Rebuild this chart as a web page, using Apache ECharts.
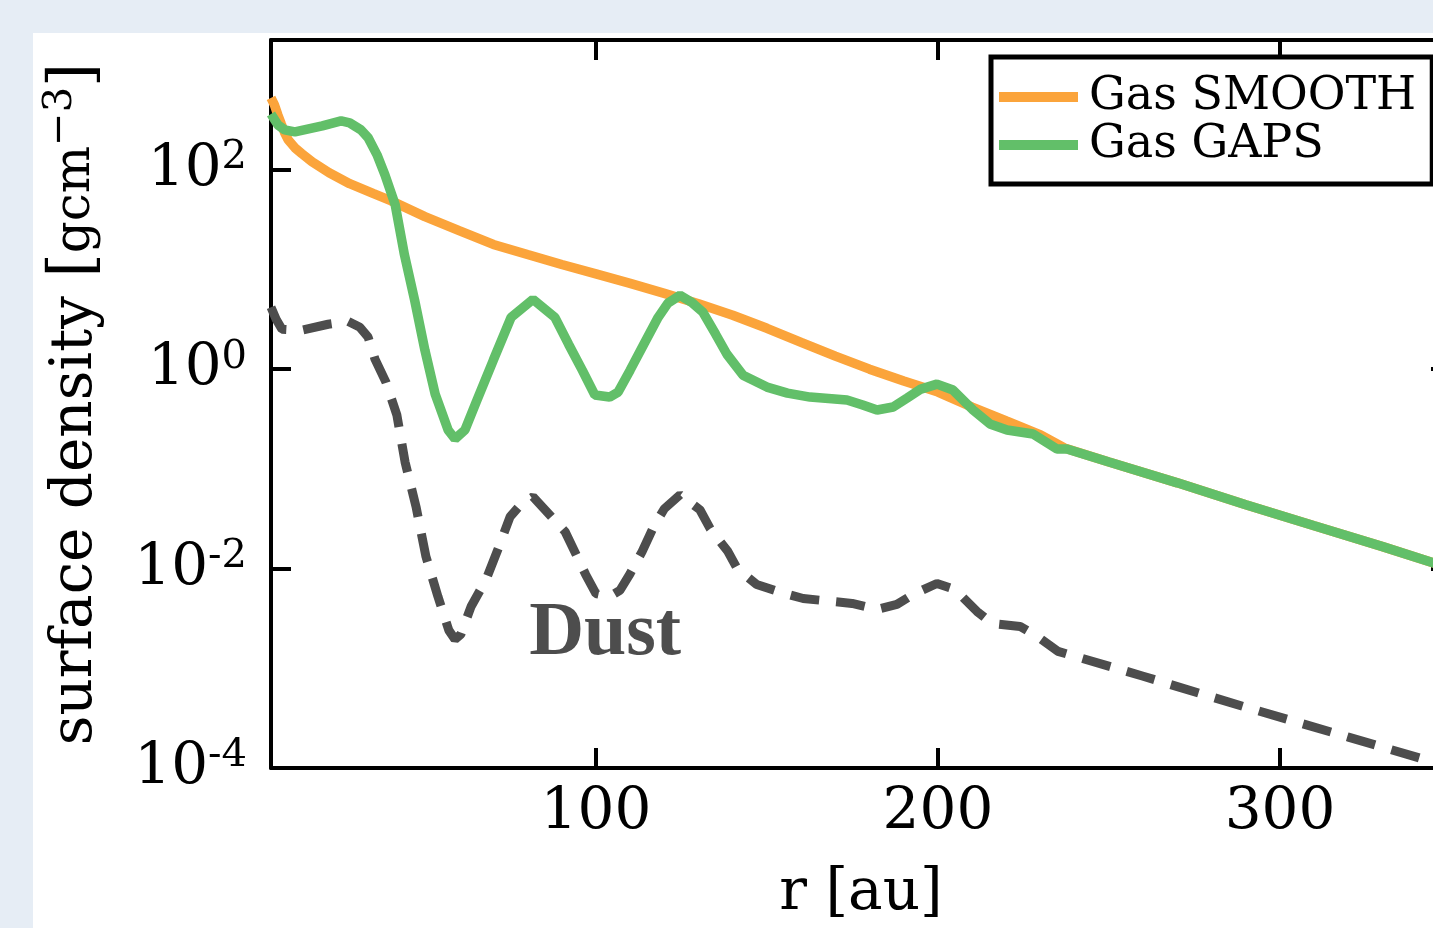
<!DOCTYPE html>
<html>
<head>
<meta charset="utf-8">
<script src="https://cdn.jsdelivr.net/npm/echarts@6/dist/echarts.min.js"></script>
<style>
  html, body { margin: 0; padding: 0; width: 1433px; height: 928px; overflow: hidden; background: #e6edf5; }
  #chart { position: absolute; left: 33px; top: 33px; width: 1500px; height: 895px; background: #fff; }
</style>
</head>
<body>
<div id="chart"></div>
<script>
// radius [au] and surface density values
const rSmooth = [5, 6, 7, 8, 9, 10, 12, 14, 17, 22, 28, 35, 40, 50, 60, 70, 80, 90, 100, 110, 120, 130, 140,
  150, 160, 170, 180, 190, 200, 210, 220, 230, 237, 250, 270, 290, 310, 330, 350];
const gasSmooth = [525, 447, 355, 288, 234, 200, 166, 145, 120, 93.3, 72.4, 57.5, 49.0, 33.9, 24.5, 17.8, 14.1, 11.2, 9.02, 7.24, 5.75, 4.52, 3.47,
  2.57, 1.86, 1.35, 1.0, 0.759, 0.589, 0.417, 0.302, 0.219, 0.162, 0.117, 0.0724, 0.0437, 0.0269, 0.0166, 0.0100];

const rGaps = [5, 7, 9, 12, 16, 20, 25.5, 28, 31.3, 33.4, 36, 38.3, 41.3, 44, 47, 50, 53, 56.8, 58.8, 61.7,
  65, 70, 75.2, 81.6, 88, 92, 96, 99.7, 104, 106.5, 110, 114, 118.2, 121, 124.6, 128, 131.3, 135, 138.3, 143,
  150, 156, 162.6, 173.4, 178, 182.2, 186.9, 191, 195, 199.7, 204.4, 210.3, 215.2, 220.2, 227.8, 234.8, 237.7,
  250, 270, 290, 310, 330, 350];
const gasGaps = [363, 282, 251, 240, 257, 275, 309, 295, 251, 209, 141, 89.1, 44.7, 14.1, 4.90, 1.55, 0.562, 0.245, 0.200, 0.245,
  0.468, 1.23, 3.31, 5.01, 3.31, 1.78, 0.977, 0.550, 0.525, 0.589, 0.977, 1.78, 3.31, 4.57, 5.50, 4.68, 3.72, 2.24, 1.41, 0.871,
  0.661, 0.575, 0.525, 0.490, 0.437, 0.389, 0.417, 0.513, 0.631, 0.708, 0.617, 0.389, 0.282, 0.245, 0.224, 0.158, 0.158,
  0.117, 0.0724, 0.0437, 0.0269, 0.0166, 0.0100];

const rDust = [5, 6.5, 8.2, 13.8, 21.7, 27.5, 31, 33.4, 35.4, 38.6, 41.8, 44.2, 47.4, 50.3, 53.8, 57, 58.8, 60.5, 63.5, 67.9,
  71.4, 74.9, 78, 81.6, 85.1, 91, 97, 100, 104, 107, 110, 113.5, 117, 120, 124.6, 130.4, 133.4, 138.6, 141.3, 147,
  153.2, 160.6, 174.9, 182.2, 188, 192.7, 199.7, 205, 211.4, 215.8, 224, 229, 235.1, 260, 290, 320, 350];
const dust = [4.17, 3.16, 2.51, 2.45, 2.82, 3.02, 2.63, 2.09, 1.26, 0.741, 0.347, 0.117, 0.0417, 0.0132, 0.00525, 0.0024, 0.00195, 0.00219, 0.00417, 0.00776,
  0.0158, 0.0331, 0.0437, 0.0525, 0.0389, 0.0234, 0.00871, 0.00562, 0.00525, 0.00603, 0.00891, 0.0148, 0.0269, 0.0398, 0.0550, 0.0389, 0.0251, 0.0148, 0.0100, 0.00692,
  0.00589, 0.00501, 0.00447, 0.00389, 0.00437, 0.00550, 0.00708, 0.00617, 0.00372, 0.00282, 0.00263, 0.00209, 0.00148, 0.000832, 0.000407, 0.000204, 0.000102];

const xTicks = [100, 200, 300];
const yTicks = [1e-4, 1e-2, 1, 100];
const dustLabelAt = [102.7, 0.0022];

const serif = "DejaVu Serif";
const pairs = (xs, ys) => xs.map((x, i) => [x, ys[i]]);

const axisLine = { show: true, lineStyle: { color: "#000", width: 4 } };
const tickIn = list => ({ show: true, inside: true, length: 20, customValues: list, lineStyle: { color: "#000", width: 4 } });

const chart = echarts.init(document.getElementById("chart"));
chart.setOption({
  animation: false,
  backgroundColor: "#fff",
  grid: { left: 238, top: 7, width: 1180, height: 732 },
  legend: {
    data: ["Gas SMOOTH", "Gas GAPS"],
    orient: "vertical",
    left: 958,
    top: 24,
    icon: "rect",
    itemWidth: 79,
    itemHeight: 10,
    itemGap: 2,
    padding: [17, 16, 16, 8],
    backgroundColor: "#fff",
    borderColor: "#000",
    borderWidth: 5,
    textStyle: { fontFamily: serif, fontSize: 46, lineHeight: 46, color: "#000", padding: [0, 0, 0, 6] }
  },
  xAxis: [
    {
      type: "value", min: 5, max: 350, position: "bottom",
      axisLine: axisLine, axisTick: tickIn(xTicks), splitLine: { show: false },
      axisLabel: { customValues: xTicks, fontFamily: serif, fontSize: 58, color: "#000", margin: 16 },
      name: "r [au]", nameLocation: "middle", nameGap: 97,
      nameTextStyle: { fontFamily: serif, fontSize: 58, color: "#000" }
    },
    {
      type: "value", min: 5, max: 350, position: "top",
      axisLine: axisLine, axisTick: tickIn(xTicks), splitLine: { show: false },
      axisLabel: { show: false }
    }
  ],
  yAxis: [
    {
      type: "log", logBase: 10, min: 1e-4, max: 2000, position: "left",
      axisLine: axisLine, axisTick: tickIn(yTicks), splitLine: { show: false },
      axisLabel: {
        customValues: yTicks, margin: 24,
        formatter: v => "{b|10}{s|" + Math.round(Math.log10(v)) + "}",
        rich: {
          b: { fontFamily: serif, fontSize: 58, color: "#000", lineHeight: 64 },
          s: { fontFamily: serif, fontSize: 40, color: "#000", verticalAlign: "top", lineHeight: 40 }
        }
      },
      name: "{a|surface density }{k|[}{b|gcm}{c|−3}{k|]}",
      nameLocation: "middle", nameRotate: 90, nameGap: 160,
      nameTextStyle: {
        rich: {
          a: { fontFamily: serif, fontSize: 58, color: "#000", lineHeight: 70 },
          k: { fontFamily: serif, fontSize: 62, color: "#000", lineHeight: 70 },
          b: { fontFamily: serif, fontSize: 50, color: "#000", lineHeight: 70 },
          c: { fontFamily: serif, fontSize: 40, color: "#000", verticalAlign: "top", lineHeight: 40 }
        }
      }
    },
    {
      type: "log", logBase: 10, min: 1e-4, max: 2000, position: "right",
      axisLine: axisLine, axisTick: tickIn(yTicks), splitLine: { show: false },
      axisLabel: { show: false }
    }
  ],
  series: [
    {
      name: "Gas SMOOTH", type: "line", data: pairs(rSmooth, gasSmooth),
      showSymbol: false, symbol: "none", silent: true,
      itemStyle: { color: "#fba43b" },
      lineStyle: { color: "#fba43b", width: 9.5 }
    },
    {
      name: "Dust", type: "line", data: pairs(rDust, dust),
      showSymbol: false, symbol: "none", silent: true,
      itemStyle: { color: "#4d4d4d" },
      lineStyle: { color: "#4d4d4d", width: 9, type: [29, 17], cap: "butt" },
      markPoint: {
        silent: true, symbol: "circle", symbolSize: 0,
        data: [{ coord: dustLabelAt }],
        label: {
          show: true, position: "inside", formatter: "Dust",
          fontFamily: "Liberation Serif", fontWeight: "bold", fontSize: 76, color: "#4d4d4d"
        }
      }
    },
    {
      name: "Gas GAPS", type: "line", data: pairs(rGaps, gasGaps),
      showSymbol: false, symbol: "none", silent: true,
      itemStyle: { color: "#62bf69" },
      lineStyle: { color: "#62bf69", width: 9.5 }
    }
  ]
});
</script>
</body>
</html>
